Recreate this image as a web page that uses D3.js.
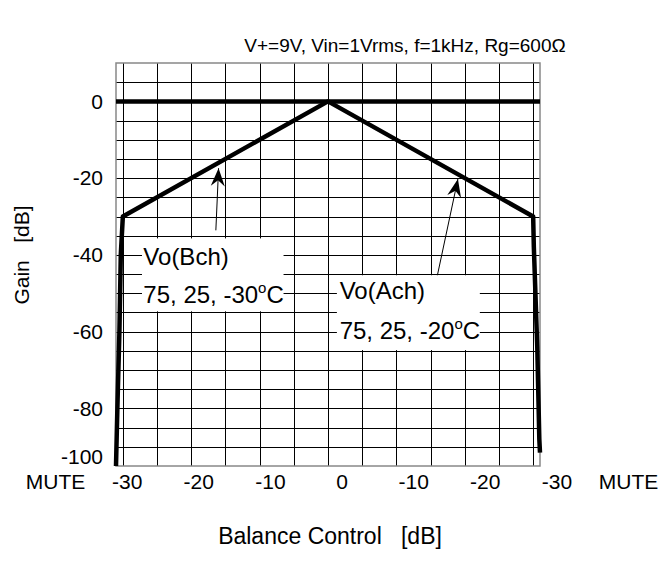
<!DOCTYPE html>
<html lang="en">
<head>
<meta charset="UTF-8">
<title>Balance Control vs Gain</title>
<style>
  body { margin: 0; background: #fff; }
  text { font-family: "Liberation Sans", Arial, sans-serif; fill: #000; }
  .grid line { stroke: #000; stroke-width: 1; shape-rendering: crispEdges; }
  .grid path { display: none; }
  .frame { fill: none; stroke: #888; stroke-width: 1.5; }
  .curve { fill: none; stroke: #000; stroke-width: 4.5; stroke-linejoin: round; }
  .ticks path, .ticks line { display: none; }
</style>
</head>
<body>
<div id="chart"></div>
<script src="https://cdnjs.cloudflare.com/ajax/libs/d3/7.8.5/d3.min.js"></script>
<script>
// balance control (dB, left = B side, right = A side) vs gain (dB)
// the bottom edge of the chart is the MUTE level (printed as -100)
var bchX = [-31, -30.8, -30.5, -30.3, -30, 0, 31];
var bchY = [-95, -80, -60, -40, -30, 0, 0];
var achX = [-31, 0, 30, 30.1, 30.6, 30.9, 31];
var achY = [0, 0, -30, -38, -64, -88, -91.5];

var gridX = [-30, -25, -20, -15, -10, -5, 0, 5, 10, 15, 20, 25, 30];
var gridY = [5, 0, -5, -10, -15, -20, -25, -30, -35, -40, -45, -50, -55, -60, -65, -70, -75, -80, -85, -90];
var yTicks = [0, -20, -40, -60, -80, -95];
var yTickText = ["0", "-20", "-40", "-60", "-80", "-100"];
var xLabels = ["MUTE", "-30", "-20", "-10", "0", "-10", "-20", "-30", "MUTE"];

var noteNames = ["Vo(Bch)", "Vo(Ach)"];
var noteTemps = ["75, 25, -30", "75, 25, -20"];

var W = 664, H = 576;
var svg = d3.select("#chart").append("svg")
  .attr("width", W).attr("height", H);

var x = d3.scaleLinear().domain([-31, 31]).range([116, 540]);
var y = d3.scaleLinear().domain([-95, 10]).range([466, 63]);

// grid
svg.append("g").attr("class", "grid")
  .attr("transform", "translate(0," + y(-95) + ")")
  .call(d3.axisBottom(x).tickValues(gridX).tickSize(-(y(-95) - y(10))).tickFormat(""));
svg.append("g").attr("class", "grid")
  .attr("transform", "translate(" + x(-31) + ",0)")
  .call(d3.axisLeft(y).tickValues(gridY).tickSize(-(x(31) - x(-31))).tickFormat(""));

svg.append("rect").attr("class", "frame")
  .attr("x", x(-31)).attr("y", y(10))
  .attr("width", x(31) - x(-31)).attr("height", y(-95) - y(10));

// annotation boxes hide the grid behind them
var boxes = [
  { x0: -27.2, x1: -6.5, y0: -35.7, y1: -54.7, tx: -27.0, l1: -42.7, l2: -52.6 },
  { x0: 1.3, x1: 22.2, y0: -45.3, y1: -64.8, tx: 1.7, l1: -51.4, l2: -61.8 }
];
svg.selectAll("rect.box").data(boxes).enter().append("rect")
  .attr("class", "box")
  .attr("x", function (d) { return x(d.x0); })
  .attr("y", function (d) { return y(d.y0); })
  .attr("width", function (d) { return x(d.x1) - x(d.x0); })
  .attr("height", function (d) { return y(d.y1) - y(d.y0); })
  .attr("fill", "#fff");

// curves
var line = d3.line().x(function (d) { return x(d[0]); }).y(function (d) { return y(d[1]); });
svg.append("path").attr("class", "curve")
  .attr("d", line(d3.zip(bchX, bchY)));
svg.append("path").attr("class", "curve")
  .attr("d", line(d3.zip(achX, achY)));

// arrows
svg.append("defs").append("marker")
  .attr("id", "head")
  .attr("markerUnits", "userSpaceOnUse")
  .attr("viewBox", "-20 -8 22 16")
  .attr("markerWidth", 22).attr("markerHeight", 16)
  .attr("refX", 0).attr("refY", 0)
  .attr("orient", "auto")
  .append("path").attr("d", "M0,0 L-18,-7 L-12,0 L-18,7 Z").attr("fill", "#000");

var arrows = [
  { from: [-16.4, -33.6], to: [-16.0, -17.4] },
  { from: [16.0, -45.3], to: [19.0, -20.2] }
];
svg.selectAll("line.arrow").data(arrows).enter().append("line")
  .attr("class", "arrow")
  .attr("x1", function (d) { return x(d.from[0]); })
  .attr("y1", function (d) { return y(d.from[1]); })
  .attr("x2", function (d) { return x(d.to[0]); })
  .attr("y2", function (d) { return y(d.to[1]); })
  .attr("stroke", "#000").attr("stroke-width", 1)
  .attr("marker-end", "url(#head)");

// annotation text
boxes.forEach(function (b, i) {
  svg.append("text").attr("x", x(b.tx)).attr("y", y(b.l1))
    .attr("font-size", 24).text(noteNames[i]);
  var t = svg.append("text").attr("x", x(b.tx)).attr("y", y(b.l2))
    .attr("font-size", 24);
  t.append("tspan").text(noteTemps[i]);
  t.append("tspan").attr("dy", -10).attr("font-size", 15).text("o");
  t.append("tspan").attr("dy", 10).text("C");
});

// y tick labels
var yAxisG = svg.append("g").attr("class", "ticks")
  .attr("transform", "translate(" + x(-31) + ",0)")
  .call(d3.axisLeft(y).tickValues(yTicks).tickSize(0).tickPadding(13)
    .tickFormat(function (d, i) { return yTickText[i]; }));
yAxisG.selectAll("text").attr("font-size", 21).attr("font-family", null);
yAxisG.selectAll("text").filter(function (d) { return d === -95; }).attr("dy", "-0.1em");

// x tick labels (printed at their own spacing, independent of the grid)
var xl = d3.scalePoint().domain(d3.range(xLabels.length)).range([55, 628]);
svg.append("g").attr("class", "ticks")
  .attr("transform", "translate(0,474)")
  .call(d3.axisBottom(xl).tickSize(0).tickPadding(0).tickFormat(function (i) { return xLabels[i]; }))
  .selectAll("text").attr("font-size", 21).attr("font-family", null);

// titles
svg.append("text").attr("x", 405).attr("y", 52).attr("text-anchor", "middle")
  .attr("font-size", 19).text("V+=9V, Vin=1Vrms, f=1kHz, Rg=600\u03A9");
svg.append("text").attr("x", 330).attr("y", 544).attr("text-anchor", "middle")
  .attr("font-size", 23).style("white-space", "pre").text("Balance Control   [dB]");
svg.append("text").attr("transform", "translate(29,255) rotate(-90)").attr("text-anchor", "middle")
  .attr("font-size", 21).style("white-space", "pre").text("Gain   [dB]");
</script>
</body>
</html>
